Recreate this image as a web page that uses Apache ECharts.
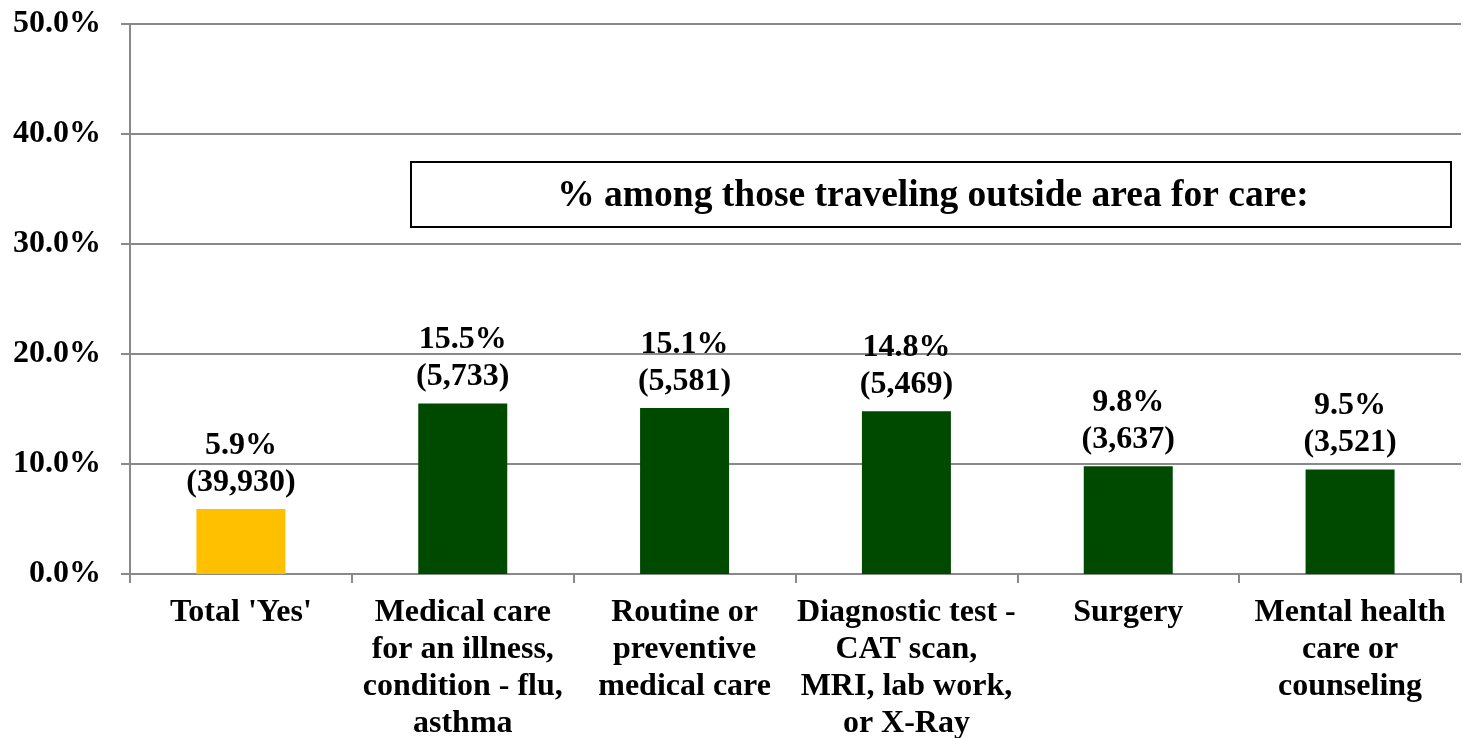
<!DOCTYPE html>
<html>
<head>
<meta charset="utf-8">
<script src="https://cdn.jsdelivr.net/npm/echarts@6/dist/echarts.min.js"></script>
<style>
  html, body { margin: 0; padding: 0; background: #fff; }
  #chart { width: 1463px; height: 738px; }
</style>
</head>
<body>
<div id="chart"></div>
<script>
// Reasons for traveling outside the area for care
const categories = [
  "Total 'Yes'",
  "Medical care\nfor an illness,\ncondition - flu,\nasthma",
  "Routine or\npreventive\nmedical care",
  "Diagnostic test -\nCAT scan,\nMRI, lab work,\nor X-Ray",
  "Surgery",
  "Mental health\ncare or\ncounseling"
];
const percentValues = [5.9, 15.5, 15.1, 14.8, 9.8, 9.5];
const counts = ["39,930", "5,733", "5,581", "5,469", "3,637", "3,521"];
const barColors = ["#FFC000", "#004A00", "#004A00", "#004A00", "#004A00", "#004A00"];
const boxTitle = "% among those traveling outside area for care:";

const serif = "'Liberation Serif', 'Times New Roman', serif";
const chart = echarts.init(document.getElementById('chart'));

chart.setOption({
  animation: false,
  backgroundColor: '#ffffff',
  grid: { left: 130, right: 2, top: 24, bottom: 164, outerBoundsMode: 'none', containLabel: false },
  xAxis: {
    type: 'category',
    data: categories,
    axisLine: { lineStyle: { color: '#898989', width: 2 } },
    axisTick: { show: true, length: 9, lineStyle: { color: '#898989', width: 2 } },
    axisLabel: {
      interval: 0,
      margin: 20,
      color: '#000',
      fontFamily: serif,
      fontWeight: 'bold',
      fontSize: 32,
      lineHeight: 37,
      align: 'center'
    }
  },
  yAxis: {
    type: 'value',
    min: 0,
    max: 50,
    interval: 10,
    axisLine: { show: true, lineStyle: { color: '#898989', width: 2 } },
    axisTick: { show: true, length: 9, lineStyle: { color: '#898989', width: 2 } },
    splitLine: { lineStyle: { color: '#898989', width: 2 } },
    axisLabel: {
      margin: 29,
      color: '#000',
      fontFamily: serif,
      fontWeight: 'bold',
      fontSize: 32,
      formatter: v => v.toFixed(1) + '%'
    }
  },
  series: [{
    type: 'bar',
    barWidth: 89,
    data: percentValues.map((v, i) => ({ value: v, itemStyle: { color: barColors[i] } })),
    label: {
      show: true,
      position: 'top',
      distance: 8,
      color: '#000',
      fontFamily: serif,
      fontWeight: 'bold',
      fontSize: 32,
      lineHeight: 37,
      formatter: p => p.value.toFixed(1) + '%\n(' + counts[p.dataIndex] + ')'
    }
  }],
  graphic: [{
    type: 'group',
    left: 410,
    top: 161,
    children: [
      {
        type: 'rect',
        shape: { x: 0, y: 0, width: 1040, height: 65 },
        style: { fill: '#fff', stroke: '#000', lineWidth: 2 }
      },
      {
        type: 'text',
        x: 522,
        y: 34,
        style: {
          text: boxTitle,
          fill: '#000',
          font: "bold 37.5px 'Liberation Serif', 'Times New Roman', serif",
          textAlign: 'center',
          textVerticalAlign: 'middle'
        }
      }
    ]
  }]
});
</script>
</body>
</html>
